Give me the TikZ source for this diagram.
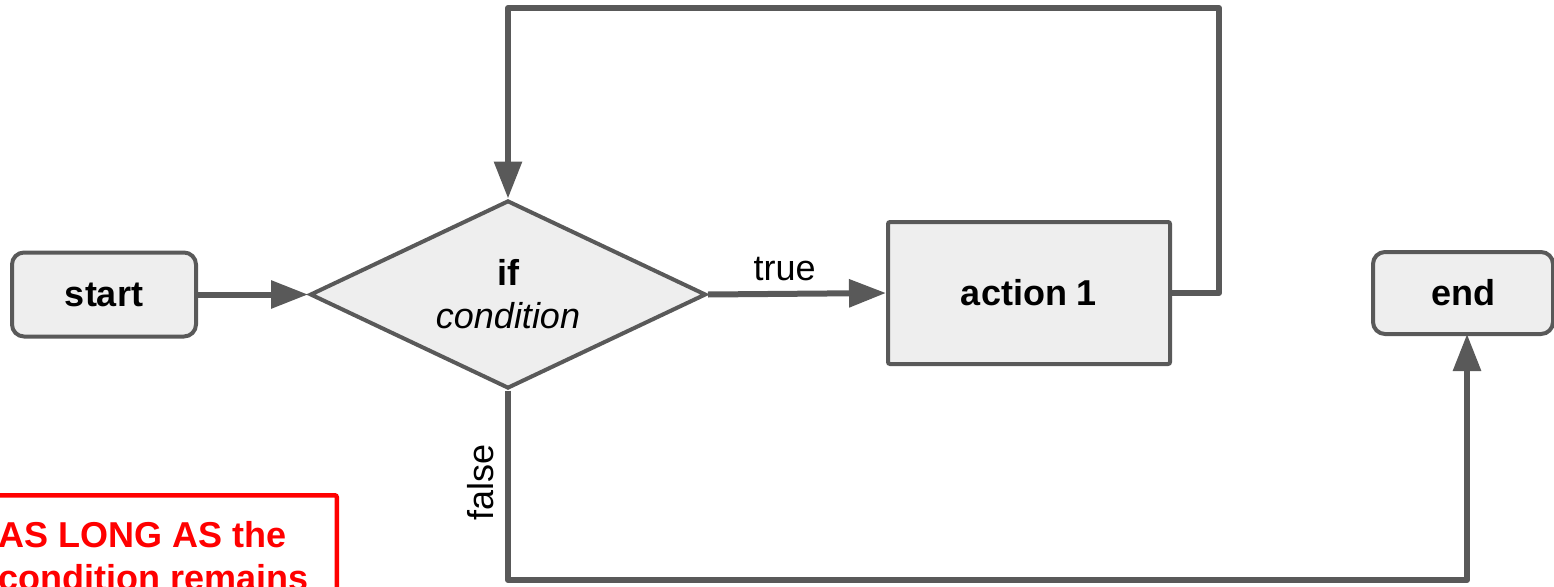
\documentclass[tikz,border=0pt]{standalone}
\usepackage{fontspec}
\setmainfont{Liberation Sans}
\usetikzlibrary{shapes.geometric,arrows.meta}
\definecolor{edgegray}{HTML}{595959}
\definecolor{boxfill}{HTML}{EEEEEE}
\definecolor{notered}{HTML}{FF0000}
\tikzset{
  base/.style={draw=edgegray, line width=4pt, fill=boxfill, inner sep=0pt},
  terminal/.style={base, rectangle, rounded corners=12pt},
  process/.style={base, rectangle, rounded corners=2pt},
  decision/.style={base, diamond, shape aspect=2.1, align=center},
  flow/.style={draw=edgegray, line width=6pt, line join=round,
    -{Triangle[length=37pt,width=27pt]}},
  lbl/.style={font=\fontsize{36}{43}\selectfont},
}
\begin{document}
\begin{tikzpicture}[x=1pt,y=-1pt]
\useasboundingbox (0,0) rectangle (1554,586);
\clip (0,0) rectangle (1554,586);

% nodes
\node (start) [terminal, minimum width=184pt, minimum height=84pt, lbl]
  at (104,294.5) {\bfseries start};
\node (dia) [decision, minimum width=396pt, minimum height=188pt, lbl]
  at (508,294.5) {\bfseries if\\\itshape condition};
\node (act) [process, minimum width=282pt, minimum height=142pt, lbl]
  at (1029,293) {\bfseries action 1};
\node (end) [terminal, minimum width=180pt, minimum height=82pt, lbl]
  at (1463,293) {\bfseries end};

% connectors
\coordinate (loopcorner) at (1219,8);
\coordinate (falsecorner) at (1467,580);
\coordinate (endin) at (1467,334);

\draw[flow] (start.east) -- (dia.west);
\draw[flow] (dia.east) -- node[pos=0.43, above=7pt, lbl] (truelbl) {true} (act.west);
\draw[flow] (act.east) -| (loopcorner) -| (dia.north);
\draw[flow] (dia.south) |- (falsecorner) -- (endin);
\node (falselbl) [lbl, rotate=90] at (481,482) {false};

% note box
\node (note) [rectangle, draw=notered, line width=4.5pt, rounded corners=2pt,
  anchor=north east, minimum width=380pt, minimum height=160pt]
  at (339,493) {};
\node (notetext) [lbl, text=notered, anchor=base west, align=left, inner sep=0pt]
  at (-2,590) {\bfseries AS LONG AS the\\\bfseries condition remains};
\end{tikzpicture}
\end{document}
